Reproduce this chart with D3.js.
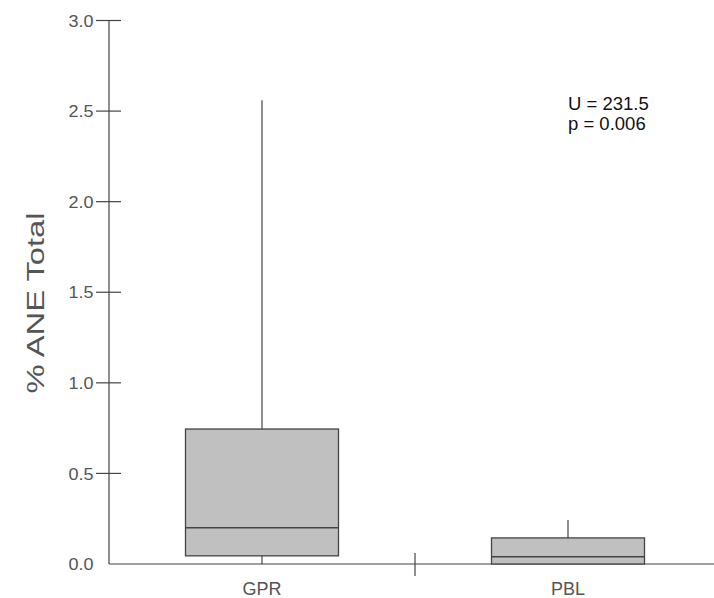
<!DOCTYPE html>
<html><head><meta charset="utf-8">
<script src="https://cdn.jsdelivr.net/npm/d3@7"></script>
<style>body{margin:0;background:#fff;} text{font-family:Arial,"Liberation Sans",sans-serif;}</style>
</head><body>
<svg id="chart" width="714" height="598"></svg>
<script>
const categories = ["GPR", "PBL"];
const whiskerLow = [0.0, 0.0];
const q1 = [0.045, 0.0];
const median = [0.20, 0.04];
const q3 = [0.745, 0.144];
const whiskerHigh = [2.56, 0.243];
const yTicks = [0.0, 0.5, 1.0, 1.5, 2.0, 2.5, 3.0];
const annotation = ["U = 231.5", "p = 0.006"];
const yTitle = "% ANE Total";

const svg = d3.select("#chart");
const y = d3.scaleLinear().domain([0, 3]).range([564, 20.5]);
const x = d3.scaleBand().domain(categories).range([109, 721]).paddingInner(0).paddingOuter(0);
const axisColor = "#444";

// y axis line
svg.append("line").attr("x1", 109).attr("x2", 109).attr("y1", y(3)).attr("y2", y(0))
  .attr("stroke", axisColor).attr("stroke-width", 1.2);
// y ticks (crossing)
yTicks.forEach(t => {
  if (t > 0) {
    svg.append("line").attr("x1", 96).attr("x2", 121).attr("y1", y(t)).attr("y2", y(t))
      .attr("stroke", axisColor).attr("stroke-width", 1.2);
  }
  svg.append("text").attr("x", 93.5).attr("y", y(t)).attr("dy", "0.36em")
    .attr("text-anchor", "end").attr("font-size", 17).attr("fill", "#555")
    .attr("textLength", 25).attr("lengthAdjust", "spacingAndGlyphs")
    .text(d3.format(".1f")(t));
});
// x axis line
svg.append("line").attr("x1", 109).attr("x2", 714).attr("y1", y(0)).attr("y2", y(0))
  .attr("stroke", axisColor).attr("stroke-width", 1.2);
// divider ticks between categories
categories.slice(1).forEach(c => {
  const xx = x(c);
  svg.append("line").attr("x1", xx).attr("x2", xx).attr("y1", y(0) - 11).attr("y2", y(0) + 12)
    .attr("stroke", axisColor).attr("stroke-width", 1.2);
});
// category labels
categories.forEach(c => {
  svg.append("text").attr("x", x(c) + x.bandwidth() / 2).attr("y", 595)
    .attr("text-anchor", "middle").attr("font-size", 18).attr("fill", "#555").text(c);
});

// boxes
const bw = x.bandwidth() / 2;
categories.forEach((c, i) => {
  const cx = x(c) + x.bandwidth() / 2;
  const g = svg.append("g");
  g.append("line").attr("x1", cx).attr("x2", cx).attr("y1", y(whiskerHigh[i])).attr("y2", y(q3[i]))
    .attr("stroke", axisColor).attr("stroke-width", 1.2);
  g.append("line").attr("x1", cx).attr("x2", cx).attr("y1", y(q1[i])).attr("y2", y(whiskerLow[i]))
    .attr("stroke", axisColor).attr("stroke-width", 1.2);
  g.append("rect").attr("x", cx - bw / 2).attr("width", bw)
    .attr("y", y(q3[i])).attr("height", y(q1[i]) - y(q3[i]))
    .attr("fill", "#c0c0c0").attr("stroke", axisColor).attr("stroke-width", 1.3);
  g.append("line").attr("x1", cx - bw / 2).attr("x2", cx + bw / 2).attr("y1", y(median[i])).attr("y2", y(median[i]))
    .attr("stroke", axisColor).attr("stroke-width", 1.3);
});

// annotation
annotation.forEach((t, i) => {
  svg.append("text").attr("x", 568).attr("y", 110 + i * 20).attr("font-size", 18.5).attr("fill", "#111").text(t);
});

// y title
svg.append("text").attr("transform", "translate(44,303) rotate(-90)")
  .attr("text-anchor", "middle").attr("font-size", 23).attr("fill", "#555")
  .attr("textLength", 181).attr("lengthAdjust", "spacingAndGlyphs").text(yTitle);
</script>
</body></html>
